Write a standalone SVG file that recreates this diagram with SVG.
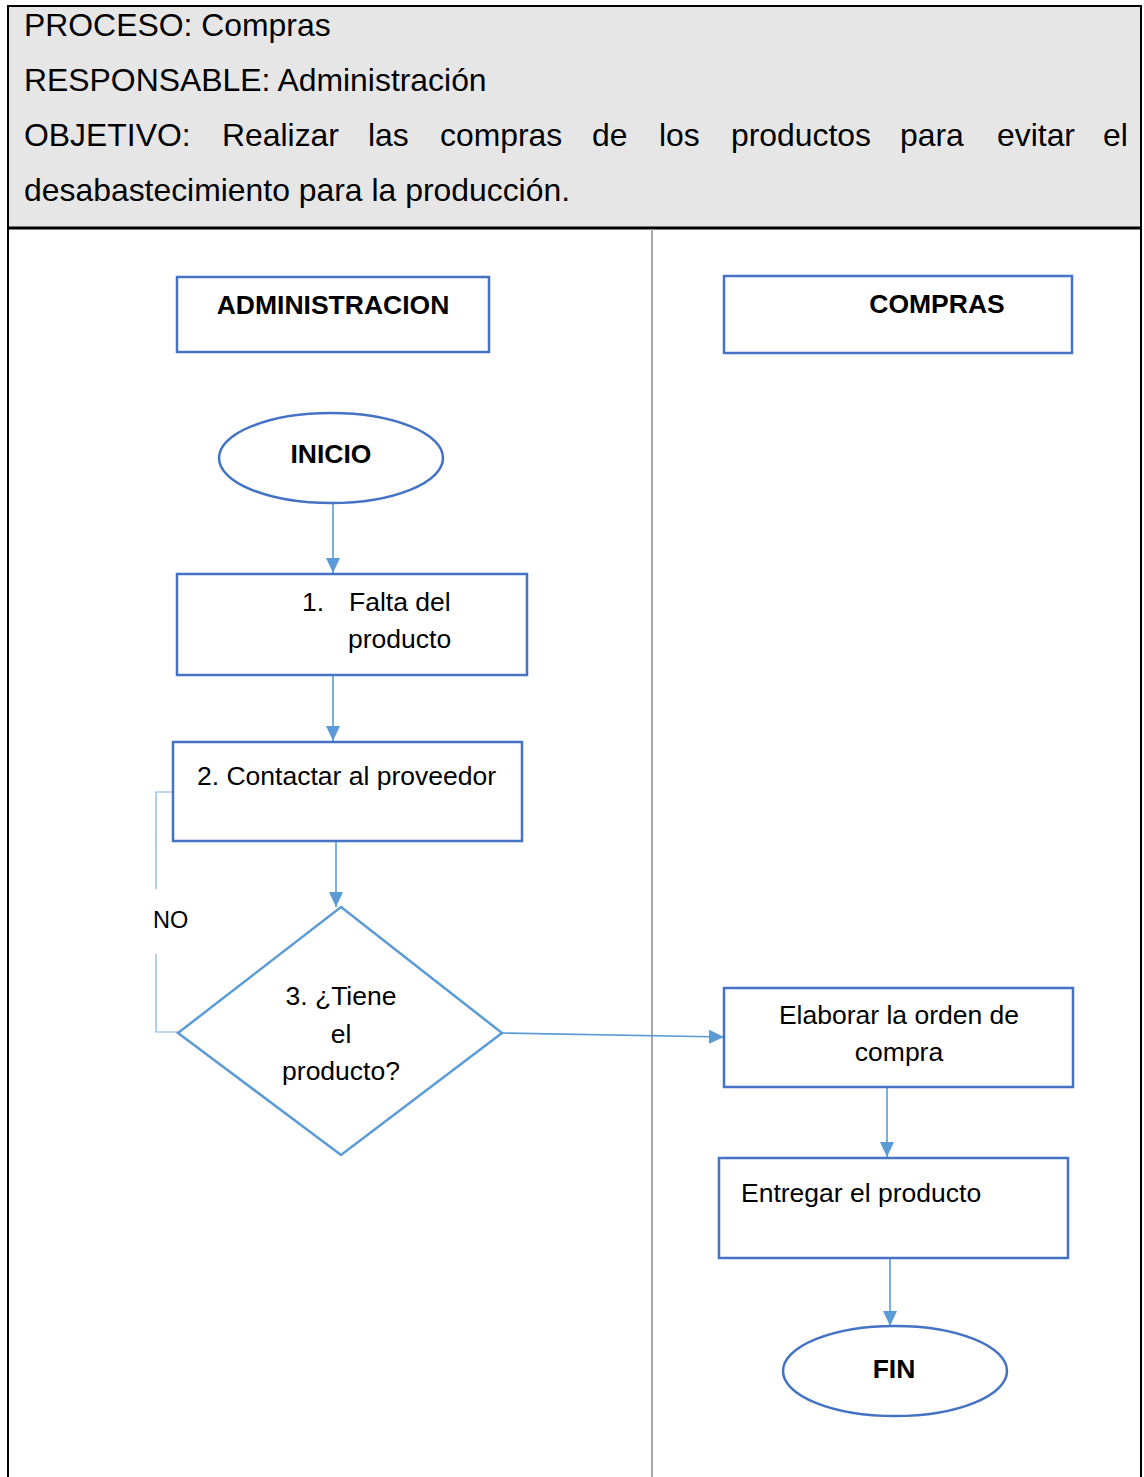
<svg xmlns="http://www.w3.org/2000/svg" width="1144" height="1477" viewBox="0 0 1144 1477">
<style>
text{font-family:"Liberation Sans",Arial,sans-serif;fill:#000}
.h{font-size:31.9px}
.t{font-size:26.5px}
.b{font-size:26.5px;font-weight:bold}
.box{fill:#fff;stroke:#4472C4;stroke-width:2.5}
.con{fill:none;stroke:#5B9BD5;stroke-width:1.6}
.loop{fill:none;stroke:#7FB0DE;stroke-width:1.2}
</style>
<defs>
<marker id="ah" markerUnits="userSpaceOnUse" markerWidth="16" markerHeight="16" refX="15" refY="7" orient="auto">
<path d="M0,0 L15,7 L0,14 z" fill="#5B9BD5"/>
</marker>
</defs>
<rect x="0" y="0" width="1144" height="1477" fill="#fff"/>
<g id="header">
<rect x="8" y="6" width="1133" height="222" fill="#E7E6E6"/>
<line x1="7" y1="6" x2="1142" y2="6" stroke="#000" stroke-width="2"/>
<line x1="7" y1="228" x2="1142" y2="228" stroke="#000" stroke-width="3"/>
<line x1="8" y1="5" x2="8" y2="1477" stroke="#000" stroke-width="2"/>
<line x1="1141" y1="5" x2="1141" y2="1477" stroke="#000" stroke-width="2"/>
<text class="h" x="24" y="36">PROCESO: Compras</text>
<text class="h" x="24" y="91">RESPONSABLE: Administración</text>
<text class="h" x="24" y="146">OBJETIVO:</text>
<text class="h" x="222" y="146">Realizar</text>
<text class="h" x="368" y="146">las</text>
<text class="h" x="440" y="146">compras</text>
<text class="h" x="592" y="146">de</text>
<text class="h" x="659" y="146">los</text>
<text class="h" x="731" y="146">productos</text>
<text class="h" x="900" y="146">para</text>
<text class="h" x="997" y="146">evitar</text>
<text class="h" x="1103" y="146">el</text>
<text class="h" x="24" y="201">desabastecimiento para la producción.</text>
</g>
<line id="divider" x1="652" y1="229" x2="652" y2="1477" stroke="#A6A6A6" stroke-width="2"/>
<g id="lane-admin">
<rect class="box" x="177" y="277" width="312" height="75"/>
<text class="b" x="333" y="314" text-anchor="middle">ADMINISTRACION</text>
</g>
<g id="lane-compras">
<rect class="box" x="724" y="276" width="348" height="77"/>
<text class="b" x="937" y="313" text-anchor="middle">COMPRAS</text>
</g>
<g id="connectors">
<line class="con" x1="333" y1="503" x2="333" y2="573" marker-end="url(#ah)"/>
<line class="con" x1="333" y1="675" x2="333" y2="741" marker-end="url(#ah)"/>
<line class="con" x1="336" y1="841" x2="336" y2="907" marker-end="url(#ah)"/>
<line class="con" x1="502" y1="1033" x2="724" y2="1037" marker-end="url(#ah)"/>
<line class="con" x1="887" y1="1087" x2="887" y2="1157" marker-end="url(#ah)"/>
<line class="con" x1="890" y1="1258" x2="890" y2="1326" marker-end="url(#ah)"/>
<polyline class="loop" points="183,792 156,792 156,889"/>
<polyline class="loop" points="156,954 156,1032 178,1032"/>
<text class="t" x="153" y="928" style="font-size:23.5px">NO</text>
</g>
<g id="inicio">
<ellipse cx="331" cy="458" rx="112" ry="45" fill="#fff" stroke="#4472C4" stroke-width="2.5"/>
<text class="b" x="331" y="463" text-anchor="middle">INICIO</text>
</g>
<g id="step1">
<rect class="box" x="177" y="574" width="350" height="101"/>
<text class="t" x="302" y="611">1.</text>
<text class="t" x="349" y="611">Falta del</text>
<text class="t" x="348" y="648">producto</text>
</g>
<g id="step2">
<rect class="box" x="173" y="742" width="349" height="99"/>
<text class="t" x="197" y="785">2. Contactar al proveedor</text>
</g>
<g id="step3">
<polygon points="341,907 502,1033 341,1155 178,1033" fill="#fff" stroke="#5B9BD5" stroke-width="2.5"/>
<text class="t" x="341" y="1005" text-anchor="middle">3. ¿Tiene</text>
<text class="t" x="341" y="1043" text-anchor="middle">el</text>
<text class="t" x="341" y="1080" text-anchor="middle">producto?</text>
</g>
<g id="elaborar">
<rect class="box" x="724" y="988" width="349" height="99"/>
<text class="t" x="899" y="1024" text-anchor="middle">Elaborar la orden de</text>
<text class="t" x="899" y="1061" text-anchor="middle">compra</text>
</g>
<g id="entregar">
<rect class="box" x="719" y="1158" width="349" height="100"/>
<text class="t" x="741" y="1202">Entregar el producto</text>
</g>
<g id="fin">
<ellipse cx="895" cy="1371" rx="112" ry="45" fill="#fff" stroke="#4472C4" stroke-width="2.5"/>
<text class="b" x="894" y="1378" text-anchor="middle">FIN</text>
</g>
</svg>
